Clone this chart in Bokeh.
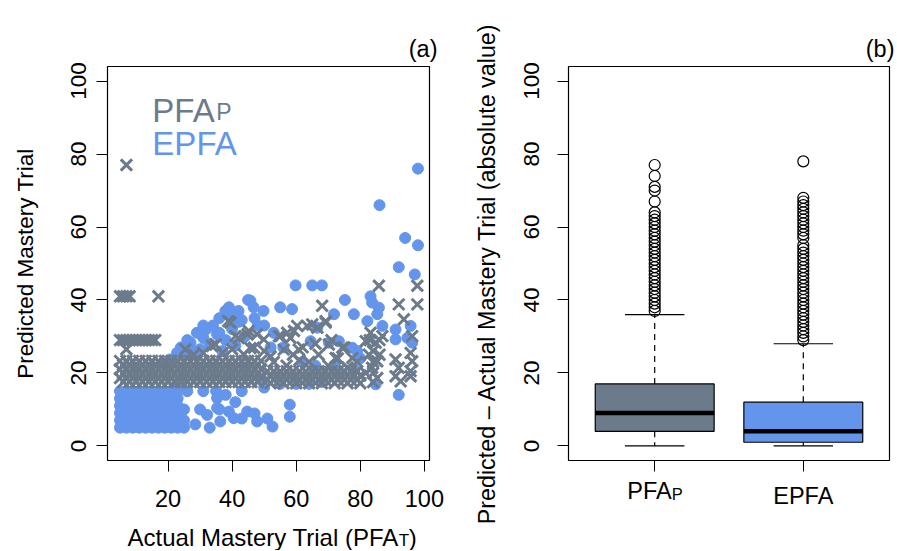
import math
from bokeh.plotting import figure
from bokeh.layouts import row, column
from bokeh.models import Range1d, FixedTicker
from bokeh.core.properties import value
from bokeh.embed import file_html
from bokeh.resources import INLINE

FONT = "Liberation Sans"
GRAY = "#6C7B8B"
BLUE = "#6495ED"

# ---------------- panel (a): predicted vs actual mastery trial ----------------
# PFA_P (gray crosses), (actual, predicted)
pfap_points = [
    (7, 77),
    (5, 41), (6, 41), (7, 41), (8, 41), (17, 41),
    (5, 29), (6, 29), (7, 29), (8, 29), (9, 29), (10, 29), (11, 29), (12, 29),
    (13, 29), (14, 29), (15, 29), (16, 29), (7, 26.5),
    (5, 23.3), (7, 23.3), (9, 23.3), (11, 23.3), (13, 23.3), (15, 23.3), (17, 23.3), (19, 23.3),
    (21, 23.3), (23, 23.3), (25, 23.3), (27, 23.3), (29, 23.3), (31, 23.3), (33, 23.3), (35, 23.3),
    (37, 23.3), (39, 23.3), (41, 23.3), (43, 23.3), (45, 23.3), (47, 23.3), (49, 23.3),
    (6, 22.2), (8, 22.2), (10, 22.2), (12, 22.2), (14, 22.2), (16, 22.2), (18, 22.2), (20, 22.2),
    (22, 22.2), (24, 22.2), (26, 22.2), (28, 22.2), (30, 22.2), (32, 22.2), (34, 22.2), (36, 22.2),
    (38, 22.2), (40, 22.2), (42, 22.2), (44, 22.2), (46, 22.2), (48, 22.2),
    (5, 21), (7, 21), (9, 21), (11, 21), (13, 21), (15, 21), (17, 21), (19, 21),
    (21, 21), (23, 21), (25, 21), (27, 21), (29, 21), (31, 21), (33, 21), (35, 21),
    (37, 21), (39, 21), (41, 21), (43, 21), (45, 21), (47, 21), (49, 21),
    (6, 19.8), (8, 19.8), (10, 19.8), (12, 19.8), (14, 19.8), (16, 19.8), (18, 19.8), (20, 19.8),
    (22, 19.8), (24, 19.8), (26, 19.8), (28, 19.8), (30, 19.8), (32, 19.8), (34, 19.8), (36, 19.8),
    (38, 19.8), (40, 19.8), (42, 19.8), (44, 19.8), (46, 19.8), (48, 19.8),
    (5, 18.6), (7, 18.6), (9, 18.6), (11, 18.6), (13, 18.6), (15, 18.6), (17, 18.6), (19, 18.6),
    (21, 18.6), (23, 18.6), (25, 18.6), (27, 18.6), (29, 18.6), (31, 18.6), (33, 18.6), (35, 18.6),
    (37, 18.6), (39, 18.6), (41, 18.6), (43, 18.6), (45, 18.6), (47, 18.6), (49, 18.6),
    (6, 17.5), (8, 17.5), (10, 17.5), (12, 17.5), (14, 17.5), (16, 17.5), (18, 17.5), (20, 17.5),
    (22, 17.5), (24, 17.5), (26, 17.5), (28, 17.5), (30, 17.5), (32, 17.5), (34, 17.5), (36, 17.5),
    (38, 17.5), (40, 17.5), (42, 17.5), (44, 17.5), (46, 17.5), (48, 17.5),
    (51, 20.5), (53, 20.5), (55, 20.5), (57, 20.5), (59, 20.5), (61, 20.5), (63, 20.5), (65, 20.5),
    (67, 20.5), (69, 20.5), (71, 20.5), (73, 20.5), (75, 20.5), (77, 20.5), (79, 20.5),
    (52, 19.3), (54, 19.3), (56, 19.3), (58, 19.3), (60, 19.3), (62, 19.3), (64, 19.3), (66, 19.3),
    (68, 19.3), (70, 19.3), (72, 19.3), (74, 19.3), (76, 19.3), (78, 19.3), (80, 19.3),
    (51, 18.1), (53, 18.1), (55, 18.1), (57, 18.1), (59, 18.1), (61, 18.1), (63, 18.1), (65, 18.1),
    (67, 18.1), (69, 18.1), (71, 18.1), (73, 18.1), (75, 18.1), (77, 18.1), (79, 18.1),
    (52, 17.2), (56, 17.2), (60, 17.2), (64, 17.2), (68, 17.2), (72, 17.2), (76, 17.2), (80, 17.2),
    (25.4, 26.5), (31, 25.5), (33.7, 27.4), (34.8, 27.8), (38.8, 34.2), (42, 29.6),
    (44.8, 30.6), (45.7, 26.8), (39.5, 33.8), (41, 30.1), (45.2, 31.5), (47.8, 30.6),
    (49.9, 29.2), (54.6, 30.1), (57.2, 31), (60.3, 32.9), (63.4, 32.9), (66.6, 32.4),
    (56.1, 26.4), (60.8, 26.4), (46.8, 26.9), (43.6, 25.1), (65, 33.3), (69.2, 33.8),
    (55.1, 30.1), (58.2, 29.6), (59.3, 31.5), (68.1, 38.4), (69.2, 34.2), (70.2, 27.8),
    (74.4, 26.9), (77.5, 24.1), (72.3, 24.1), (64, 23), (67, 25), (70, 22), (73, 24),
    (76, 21.5), (79, 23), (62, 27), (66, 28), (71, 29), (75, 27), (53, 23), (57, 22),
    (59, 25), (50, 26), (37, 25.5), (28, 25), (40, 26.5), (52, 24.5), (61, 23.5),
    (84, 17.5), (84, 20), (84, 23), (84, 26), (86, 29), (83, 29), (86, 25),
    (83.2, 31), (86.9, 30.1), (84.8, 28.3), (81.7, 28.7), (82.7, 25), (85.3, 23.2),
    (83.7, 21.4), (81.7, 20), (85.3, 18.6), (85.8, 43.9), (97.8, 43.9), (92, 38.8),
    (97.8, 38.8), (93.6, 34.7), (96.2, 30.1), (95.7, 25.5), (91, 23.7), (96.2, 23.2),
    (92, 21.4), (95.7, 20.5), (91, 19.1), (95.7, 19.1), (92.6, 17.7),
]

# EPFA (blue dots), (actual, predicted)
epfa_points = [
    (98, 76), (86, 66), (94, 57), (98, 55), (92, 49), (97, 47),
    (59.8, 44), (65, 44), (68, 44),
    (45, 40), (46.7, 38), (49.8, 37), (55, 38), (58.7, 37.5), (37.9, 37), (38.4, 36.5), (45.7, 39.8),
    (75.2, 40), (83.2, 41), (83.7, 39.3), (85.8, 37.9), (85.3, 36.1), (78, 36.1), (71.8, 36.1),
    (82.2, 34.2), (86.9, 32.9), (91, 31.9), (91, 29.2), (95.7, 32.9), (94.7, 29.6), (96.2, 28.3),
    (92, 14), (84.8, 16.9), (70.2, 28.3), (73.3, 28.7), (77.5, 26.9), (79, 26), (66.6, 32.4), (64.5, 28.7),
    (27, 28.3), (31, 29.6), (35.3, 30.6), (22.8, 25.5), (20.7, 23.7), (18.6, 22.8),
    (33, 28), (36, 31), (40, 32), (42, 34), (44, 30), (48, 33), (38, 29), (34, 33), (40, 36),
    (25, 25), (28, 26), (52, 27), (56, 27), (62, 23), (66, 22), (72, 22), (78, 21), (80, 24),
    (24, 27), (26, 29), (29, 31), (32, 32), (30, 26.5), (37, 26), (41, 27.5), (43, 34.5),
    (47, 35), (50, 33), (53, 31), (36, 35), (39, 38), (42, 37), (31, 33),
    (5, 5), (7, 5), (9, 5), (11, 5), (13, 5), (15, 5), (17, 5), (19, 5), (21, 5), (23, 5),
    (5, 7), (7, 7), (9, 7), (11, 7), (13, 7), (15, 7), (17, 7), (19, 7), (21, 7), (23, 7),
    (5, 9), (7, 9), (9, 9), (11, 9), (13, 9), (15, 9), (17, 9), (19, 9), (21, 9), (23, 9),
    (5, 11), (7, 11), (9, 11), (11, 11), (13, 11), (15, 11), (17, 11), (19, 11), (21, 11), (23, 11),
    (5, 13), (7, 13), (9, 13), (11, 13), (13, 13), (15, 13), (17, 13), (19, 13), (21, 13), (23, 13),
    (5, 15), (7, 15), (9, 15), (11, 15), (13, 15), (15, 15), (17, 15), (19, 15), (21, 15), (23, 15),
    (25, 5), (25, 7), (24, 17), (26, 15), (25, 10), (22, 16),
    (28.5, 5.9), (32.2, 8.5), (35.3, 10.4), (36.3, 6.7), (40.5, 7.6), (44.7, 9.4), (47.8, 6.7),
    (31, 15), (35.3, 13.1), (36, 10), (39, 9.4), (43, 7.5), (47, 8.9), (51, 7.5), (52.6, 5.3),
    (58, 11.3), (58, 8), (35, 15), (38, 14), (41, 12), (43, 15), (30, 10), (33, 5),
    (50, 16), (55, 17), (60, 17), (49, 18.5), (64, 17), (68, 17.5),
]

pfap_x = [p[0] for p in pfap_points]
pfap_y = [p[1] for p in pfap_points]
epfa_x = [p[0] for p in epfa_points]
epfa_y = [p[1] for p in epfa_points]

ticks_a_x = [20, 40, 60, 80, 100]
ticks_y = [0, 20, 40, 60, 80, 100]

# ---------------- panel (b): |predicted - actual| box plots ----------------
box_names = ["PFA_P", "EPFA"]
box_pos = [1, 2]
box_colors = [GRAY, BLUE]
box_low = [0, 0]
box_q1 = [4, 1]
box_med = [9, 4]
box_q3 = [17, 12]
box_high = [36, 28]
pfap_outliers = [37, 38, 39, 40, 41, 42, 43, 44, 45, 46, 47, 48, 49, 50, 51, 52, 53, 54,
                 55, 56, 57, 58, 59, 60, 61, 62, 63, 64, 67, 70, 71, 74, 77]
epfa_outliers = [29, 30, 31, 32, 33, 34, 35, 36, 37, 38, 39, 40, 41, 42, 43, 44, 45, 46, 47,
                 48, 49, 50, 51, 52, 53, 54, 55, 57, 58, 59, 60, 61, 62, 63, 64, 65, 66, 67,
                 68, 78]

HS = "23.5px"   # horizontal texts
VS = "22.5px"   # rotated texts
TOTAL_H = 550


def style(p):
    p.grid.visible = False
    p.outline_line_color = "black"
    p.outline_line_width = 1.2
    p.background_fill_color = "white"
    p.border_fill_color = "white"
    for ax in (p.xaxis[0], p.yaxis[0]):
        ax.axis_line_color = None
        ax.major_tick_in = 0
        ax.major_tick_out = 11
        ax.major_tick_line_color = "black"
        ax.minor_tick_line_color = None
        ax.major_label_text_font = FONT
        ax.major_label_text_color = "black"
        ax.axis_label_text_font = FONT
        ax.axis_label_text_font_style = "normal"
        ax.axis_label_text_color = "black"
    p.xaxis[0].major_label_text_font_size = HS
    p.yaxis[0].major_label_text_font_size = VS
    p.yaxis[0].axis_label_text_font_size = VS
    p.yaxis[0].major_label_orientation = "vertical"
    p.yaxis[0].ticker = FixedTicker(ticks=ticks_y)
    p.title.text_font = FONT
    p.title.text_font_size = HS
    p.title.text_font_style = "normal"
    p.title.text_color = "black"
    p.title.align = "right"


def text_strip(width, height, x_range, bl, br):
    t = figure(width=width, height=height, x_range=x_range, y_range=Range1d(height, 0),
               output_backend="svg", toolbar_location=None, title=None,
               x_axis_location=None, y_axis_location=None,
               min_border_left=bl, min_border_right=br, min_border_top=0, min_border_bottom=0)
    t.grid.visible = False
    t.outline_line_color = None
    t.background_fill_color = "white"
    t.border_fill_color = "white"
    return t


def txt(p, x, y, s, size, color="black", align="left", xo=0, angle=0):
    p.text(x=[x], y=[y], text=[s], text_font=value(FONT), text_font_size=value(size),
           text_color=color, text_align=align, text_baseline="alphabetic", x_offset=xo,
           angle=angle)


# ---- panel (a)
W1, H1 = 445, 517
p1 = figure(width=W1, height=H1, x_range=Range1d(1.1, 101.6), y_range=Range1d(-4, 104),
            output_backend="svg", toolbar_location=None, title="(a)",
            min_border_left=107, min_border_right=16, min_border_top=66, min_border_bottom=57)
style(p1)
p1.title.offset = -8
p1.title.standoff = 10
p1.xaxis[0].ticker = FixedTicker(ticks=ticks_a_x)
p1.xaxis[0].major_label_standoff = 18
p1.yaxis[0].major_label_standoff = 10
p1.yaxis[0].axis_label = "Predicted Mastery Trial"
p1.yaxis[0].axis_label_standoff = 31

p1.scatter(epfa_x, epfa_y, marker="circle", size=11, fill_color=BLUE, line_color=BLUE)
p1.scatter(pfap_x, pfap_y, marker="x", size=16, line_color=GRAY, line_width=3)

# legend text (inside the frame)
txt(p1, 15.1, 92.0, "PFA", "33px", GRAY)
txt(p1, 15.1, 91.5, "P", "23px", GRAY, xo=64)
txt(p1, 15.1, 83.0, "EPFA", "33px", BLUE)

# x-axis title strip with subscript
t1 = text_strip(W1, TOTAL_H - H1, p1.x_range, 107, 16)
txt(t1, 92.0, 20, "Actual Mastery Trial (PFA", "24px", align="right")
txt(t1, 92.0, 23, "T", "17px")
txt(t1, 92.0, 20, ")", "24px", xo=10)

# ---- y-axis title strip for panel (b)
WY = 65
ystrip = figure(width=WY, height=TOTAL_H, x_range=Range1d(0, WY), y_range=Range1d(TOTAL_H, 0),
                output_backend="svg", toolbar_location=None, title=None,
                x_axis_location=None, y_axis_location=None,
                min_border_left=0, min_border_right=0, min_border_top=0, min_border_bottom=0)
ystrip.grid.visible = False
ystrip.outline_line_color = None
txt(ystrip, 41, 273, "Predicted \u2013 Actual Mastery Trial (absolute value)", "23.3px",
    align="center", angle=math.pi / 2)

# ---- panel (b)
W2, H2 = 386, 478
p2 = figure(width=W2, height=H2, x_range=Range1d(0.42, 2.58), y_range=Range1d(-4, 104),
            output_backend="svg", toolbar_location=None, title="(b)",
            min_border_left=58, min_border_right=7, min_border_top=66, min_border_bottom=18)
style(p2)
p2.title.offset = -5
p2.title.standoff = 10
p2.xaxis[0].ticker = FixedTicker(ticks=box_pos)
p2.xaxis[0].major_label_text_font_size = "1px"
p2.xaxis[0].major_label_text_color = None
p2.xaxis[0].major_label_standoff = 0
p2.yaxis[0].major_label_standoff = 18

half = 0.4
staple = 0.2
left = [x - half for x in box_pos]
right = [x + half for x in box_pos]
sl = [x - staple for x in box_pos]
sr = [x + staple for x in box_pos]

p2.segment(box_pos, box_q3, box_pos, box_high, line_color="black", line_width=1.2, line_dash="6 5")
p2.segment(box_pos, box_q1, box_pos, box_low, line_color="black", line_width=1.2, line_dash="6 5")
p2.segment(sl, box_high, sr, box_high, line_color="black", line_width=1.2)
p2.segment(sl, box_low, sr, box_low, line_color="black", line_width=1.2)
p2.quad(left=left, right=right, bottom=box_q1, top=box_q3, fill_color=box_colors,
        line_color="black", line_width=1.2)
p2.segment(left, box_med, right, box_med, line_color="black", line_width=4.5)

p2.scatter([box_pos[0]] * len(pfap_outliers), pfap_outliers, marker="circle", size=11,
           fill_color=None, line_color="black", line_width=1.2)
p2.scatter([box_pos[1]] * len(epfa_outliers), epfa_outliers, marker="circle", size=11,
           fill_color=None, line_color="black", line_width=1.2)

# category labels strip (PFA with subscript P, EPFA)
t2 = text_strip(W2, TOTAL_H - H2, p2.x_range, 58, 7)
txt(t2, box_pos[0], 12, "PFA", HS, align="right", xo=17)
txt(t2, box_pos[0], 15, "P", "16.5px", xo=17)
txt(t2, box_pos[1], 17, "EPFA", HS, align="center")

layout = row(column(p1, t1), ystrip, column(p2, t2))
open("out.html", "w").write(file_html(layout, INLINE))
